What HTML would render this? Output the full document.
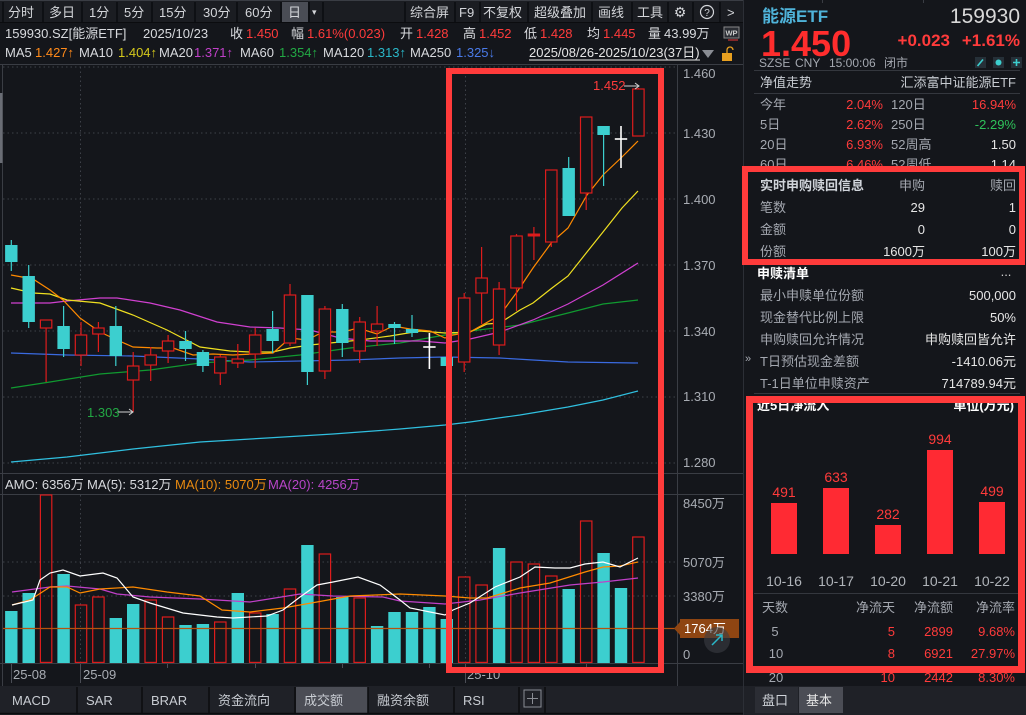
<!DOCTYPE html>
<html><head><meta charset="utf-8">
<style>
html,body{margin:0;padding:0;background:#14161b;overflow:hidden;}
svg{display:block;font-family:"Liberation Sans","Noto Sans CJK SC",sans-serif;font-size:13px;}
</style></head><body>
<svg width="1026" height="715" viewBox="0 0 1026 715" xmlns="http://www.w3.org/2000/svg" font-size="13">
<rect width="1026" height="715" fill="#14161b"/>

<!-- ===== TOOLBAR ===== -->
<rect x="0" y="0" width="743" height="23" fill="#1b1d22"/>
<line x1="0" y1="0.5" x2="743" y2="0.5" stroke="#3a3d44"/>
<line x1="0" y1="22.5" x2="743" y2="22.5" stroke="#0b0c0f"/>
<rect x="282" y="2" width="26" height="20" fill="#4a4d55"/>
<g stroke="#0b0c0f" stroke-width="1.5">
<line x1="3" y1="2" x2="3" y2="22"/><line x1="43" y1="2" x2="43" y2="22"/><line x1="82" y1="2" x2="82" y2="22"/>
<line x1="117" y1="2" x2="117" y2="22"/><line x1="152" y1="2" x2="152" y2="22"/><line x1="195" y1="2" x2="195" y2="22"/>
<line x1="237" y1="2" x2="237" y2="22"/><line x1="281" y1="2" x2="281" y2="22"/><line x1="309" y1="2" x2="309" y2="22"/>
<line x1="323" y1="2" x2="323" y2="22"/><line x1="405" y1="2" x2="405" y2="22"/><line x1="455" y1="2" x2="455" y2="22"/>
<line x1="480" y1="2" x2="480" y2="22"/><line x1="528" y1="2" x2="528" y2="22"/><line x1="592" y1="2" x2="592" y2="22"/>
<line x1="632" y1="2" x2="632" y2="22"/><line x1="668" y1="2" x2="668" y2="22"/><line x1="693" y1="2" x2="693" y2="22"/>
<line x1="720" y1="2" x2="720" y2="22"/>
</g>
<g fill="#d4d6da">
<text x="8" y="17">分时</text><text x="49" y="17">多日</text><text x="89" y="17">1分</text>
<text x="124" y="17">5分</text><text x="159" y="17">15分</text><text x="203" y="17">30分</text>
<text x="245" y="17">60分</text><text x="288" y="17">日</text>
<text x="312" y="15" font-size="9">▾</text>
<text x="410" y="17">综合屏</text><text x="459" y="17">F9</text><text x="483" y="17">不复权</text>
<text x="534" y="17">超级叠加</text><text x="598" y="17">画线</text><text x="637" y="17">工具</text>
<text x="680" y="17" font-size="14" text-anchor="middle" font-family="DejaVu Sans">⚙</text>
<circle cx="707" cy="12" r="6.5" fill="none" stroke="#d4d6da" stroke-width="1.2"/>
<text x="707" y="16" font-size="10" text-anchor="middle">?</text>
<text x="727" y="17">&gt;</text>
</g>

<!-- ===== INFO LINE 2 ===== -->
<g fill="#d8dade">
<text x="5" y="38">159930.SZ[能源ETF]</text>
<text x="143" y="38">2025/10/23</text>
<text x="230" y="38">收</text>
<text x="291" y="38">幅</text>
<text x="400" y="38">开</text>
<text x="463" y="38">高</text>
<text x="524" y="38">低</text>
<text x="587" y="38">均</text>
<text x="648" y="38">量</text>
<text x="664" y="38">43.99万</text>
</g>
<g fill="#ff3b3b">
<text x="246" y="38">1.450</text>
<text x="307" y="38">1.61%(0.023)</text>
<text x="416" y="38">1.428</text>
<text x="479" y="38">1.452</text>
<text x="540" y="38">1.428</text>
<text x="603" y="38">1.445</text>
</g>
<rect x="724" y="27" width="15" height="11" fill="#2a2d33" stroke="#888" stroke-width="1"/>
<text x="731.5" y="35.5" font-size="7.5" fill="#ccc" text-anchor="middle" font-weight="bold">WP</text>
<line x1="728" y1="40" x2="738" y2="40" stroke="#c33" stroke-width="1.2"/>

<!-- ===== MA LINE ===== -->
<g fill="#d8dade">
<text x="5" y="57">MA5</text><text x="79" y="57">MA10</text><text x="159" y="57">MA20</text>
<text x="240" y="57">MA60</text><text x="323" y="57">MA120</text><text x="410" y="57">MA250</text>
</g>
<text x="35" y="57" fill="#ff8a1a">1.427↑</text>
<text x="118" y="57" fill="#d4c81c">1.404↑</text>
<text x="194" y="57" fill="#c040c8">1.371↑</text>
<text x="279" y="57" fill="#22a844">1.354↑</text>
<text x="367" y="57" fill="#2ab7c8">1.313↑</text>
<text x="456" y="57" fill="#4a7ae8">1.325↓</text>
<text x="529" y="57" fill="#e6e6e6">2025/08/26-2025/10/23(37日)</text>
<line x1="529" y1="60" x2="700" y2="60" stroke="#e6e6e6" stroke-width="1"/>
<polygon points="702,50 714,50 708,58" fill="#8a8d94"/>
<rect x="722" y="53" width="10" height="8" fill="#e8a020"/>
<path d="M727,53 v-3 a3,3 0 0 1 6,0" fill="none" stroke="#e8a020" stroke-width="1.3"/>

<!-- ===== CHART FRAME LINES ===== -->
<line x1="0" y1="64.5" x2="743" y2="64.5" stroke="#3a3d44"/>
<line x1="2.5" y1="64" x2="2.5" y2="686" stroke="#3a3d44"/>
<line x1="677.5" y1="64" x2="677.5" y2="686" stroke="#3a3d44"/>
<line x1="0" y1="473.5" x2="743" y2="473.5" stroke="#3a3d44"/>
<line x1="0" y1="494.5" x2="743" y2="494.5" stroke="#3a3d44"/>
<line x1="0" y1="663.5" x2="743" y2="663.5" stroke="#3a3d44"/>
<rect x="0" y="93" width="2.5" height="70" fill="#6a6d75"/>

<!-- grid -->
<g stroke="#3e4149" stroke-width="1" stroke-dasharray="1.5,3">
<line x1="3" y1="67" x2="677" y2="67"/><line x1="3" y1="133" x2="677" y2="133"/>
<line x1="3" y1="199" x2="677" y2="199"/><line x1="3" y1="265" x2="677" y2="265"/>
<line x1="3" y1="331" x2="677" y2="331"/><line x1="3" y1="397" x2="677" y2="397"/>
<line x1="3" y1="463" x2="677" y2="463"/>
<line x1="3" y1="562" x2="677" y2="562"/><line x1="3" y1="596" x2="677" y2="596"/>
<line x1="80.5" y1="67" x2="80.5" y2="472"/><line x1="465.5" y1="67" x2="465.5" y2="472"/>
<line x1="80.5" y1="495" x2="80.5" y2="663"/><line x1="465.5" y1="495" x2="465.5" y2="663"/>
</g>

<!-- price axis labels -->
<g fill="#a8acb3">
<text x="683" y="78">1.460</text><text x="683" y="138">1.430</text><text x="683" y="204">1.400</text>
<text x="683" y="270">1.370</text><text x="683" y="336">1.340</text><text x="683" y="401">1.310</text>
<text x="683" y="467">1.280</text>
<text x="683" y="508">8450万</text><text x="683" y="567">5070万</text><text x="683" y="601">3380万</text>
<text x="683" y="659">0</text>
</g>

<!-- ===== MA LINES (price) ===== -->
<g fill="none" stroke-width="1.2">
<polyline stroke="#30c0e0" points="11,462 67,457 133,449 200,442 267,438 333,434 400,429 445,425 470,422 520,415 568,407 603,400 638,391"/>
<polyline stroke="#3a6ae0" points="11,353 67,355 133,356 200,359 250,362 350,360 400,358 445,357 500,358 533,360 568,362 638,363"/>
<polyline stroke="#109a30" points="11,388 50,382 100,374 150,370 200,363 250,360 300,355 350,348 400,343 445,335 470,331 520,325 568,313 603,304 638,300"/>
<polyline stroke="#d040d0" points="11,303 50,303 67,301 100,298 117,298 150,303 180,310 217,322 250,327 280,328 310,330 340,338 370,341 420,341 445,343 470,339 500,332 533,320 568,304 603,285 638,263"/>
<polyline stroke="#f0e020" points="11,288 33,293 50,294 67,300 100,303 133,315 167,330 200,347 230,351 250,352 273,352 290,348 310,345 330,343 360,340 390,336 420,331 445,333 470,332 487,324 500,323 520,310 533,303 552,288 568,276 587,252 603,232 622,208 638,191"/>
<polyline stroke="#ff8a00" points="11,275 33,279 50,290 63,300 80,318 100,332 117,340 133,347 157,348 173,348 193,355 213,354 233,355 253,354 273,353 290,338 307,340 323,332 343,332 358,328 377,334 393,326 410,329 430,331 445,338 453,335 470,332 500,315 517,292 533,268 552,242 568,228 587,195 603,175 622,157 638,141"/>
</g>

<!-- ===== CANDLES ===== -->
<g stroke-width="1.2">
<g stroke="#3ccfcf">
<line x1="11.3" y1="240" x2="11.3" y2="271"/><line x1="28.7" y1="265" x2="28.7" y2="328"/>
<line x1="63.6" y1="306" x2="63.6" y2="357"/><line x1="115.8" y1="306" x2="115.8" y2="366"/>
<line x1="185.5" y1="331" x2="185.5" y2="361"/><line x1="202.9" y1="350" x2="202.9" y2="372"/>
<line x1="272.6" y1="311" x2="272.6" y2="353"/><line x1="307.4" y1="295" x2="307.4" y2="385"/>
<line x1="342.3" y1="304" x2="342.3" y2="357"/><line x1="394.5" y1="322" x2="394.5" y2="344"/>
<line x1="412" y1="315" x2="412" y2="337"/><line x1="568.7" y1="157" x2="568.7" y2="216"/>
<line x1="603.6" y1="126" x2="603.6" y2="186"/>
</g>
<g fill="#3ccfcf">
<rect x="5.1" y="245" width="12.4" height="17"/><rect x="22.5" y="276" width="12.4" height="46"/>
<rect x="57.4" y="326" width="12.4" height="23"/><rect x="109.6" y="326" width="12.4" height="30"/>
<rect x="179.3" y="341" width="12.4" height="8"/><rect x="196.7" y="352" width="12.4" height="14"/>
<rect x="266.4" y="329" width="12.4" height="12"/><rect x="301.2" y="295" width="12.4" height="77"/>
<rect x="336.1" y="309" width="12.4" height="34"/><rect x="388.3" y="324" width="12.4" height="4"/>
<rect x="405.8" y="329" width="12.4" height="4"/><rect x="440.6" y="357" width="12.4" height="9"/>
<rect x="562.5" y="168" width="12.4" height="48"/><rect x="597.4" y="126" width="12.4" height="9"/>
</g>
<g stroke="#dd1c1c">
<line x1="46.1" y1="320" x2="46.1" y2="382"/><line x1="81" y1="322" x2="81" y2="366"/>
<line x1="98.4" y1="322" x2="98.4" y2="352"/><line x1="133.2" y1="352" x2="133.2" y2="412"/>
<line x1="150.7" y1="347" x2="150.7" y2="381"/><line x1="168.1" y1="335" x2="168.1" y2="363"/>
<line x1="220.3" y1="355" x2="220.3" y2="385"/><line x1="237.8" y1="344" x2="237.8" y2="368"/>
<line x1="255.2" y1="328" x2="255.2" y2="368"/><line x1="290" y1="284" x2="290" y2="346"/>
<line x1="324.9" y1="306" x2="324.9" y2="379"/><line x1="359.7" y1="317" x2="359.7" y2="363"/>
<line x1="377.1" y1="306" x2="377.1" y2="346"/><line x1="464.2" y1="293" x2="464.2" y2="372"/>
<line x1="481.6" y1="247" x2="481.6" y2="324"/><line x1="499.1" y1="282" x2="499.1" y2="355"/>
<line x1="516.5" y1="234" x2="516.5" y2="311"/><line x1="533.9" y1="227" x2="533.9" y2="260"/>
<line x1="551.3" y1="170" x2="551.3" y2="247"/><line x1="586.2" y1="117" x2="586.2" y2="210"/>
<line x1="638.4" y1="88" x2="638.4" y2="136"/>
</g>
<g fill="#14161b" stroke="#dd1c1c">
<rect x="40.4" y="320" width="11.4" height="8"/><rect x="75.3" y="335" width="11.4" height="20"/>
<rect x="92.7" y="328" width="11.4" height="6"/><rect x="127.5" y="366" width="11.4" height="14"/>
<rect x="145" y="355" width="11.4" height="10"/><rect x="162.4" y="341" width="11.4" height="10"/>
<rect x="214.6" y="357" width="11.4" height="16"/><rect x="232.1" y="359" width="11.4" height="4"/>
<rect x="249.5" y="335" width="11.4" height="19"/><rect x="284.3" y="295" width="11.4" height="48"/>
<rect x="319.2" y="309" width="11.4" height="62"/><rect x="354" y="322" width="11.4" height="29"/>
<rect x="371.4" y="324" width="11.4" height="7"/><rect x="458.5" y="298" width="11.4" height="64"/>
<rect x="475.9" y="278" width="11.4" height="15"/><rect x="493.4" y="289" width="11.4" height="56"/>
<rect x="510.8" y="236" width="11.4" height="52"/><rect x="545.6" y="170" width="11.4" height="72"/>
<rect x="580.5" y="117" width="11.4" height="76"/><rect x="632.7" y="89" width="11.4" height="47"/>
</g>
<rect x="527.7" y="233.5" width="12.4" height="3" fill="#dd1c1c"/>
<g stroke="#ffffff" stroke-width="1.6">
<line x1="429.4" y1="333" x2="429.4" y2="369"/><line x1="423.2" y1="347" x2="435.6" y2="347"/>
<line x1="621" y1="126" x2="621" y2="168"/><line x1="614.8" y1="139" x2="627.2" y2="139"/>
</g>
</g>

<!-- high/low markers -->
<text x="593" y="90" fill="#ff3b3b">1.452</text>
<path d="M624,86 H639 M635,83 L639,86 L635,89" stroke="#d0d0d0" fill="none" stroke-width="1"/>
<text x="87" y="417" fill="#22a844">1.303</text>
<path d="M118,412 H133 M129,409 L133,412 L129,415" stroke="#d0d0d0" fill="none" stroke-width="1"/>

<!-- ===== VOLUME ===== -->
<g fill="#d8dade">
<text x="5" y="489">AMO: 6356万</text>
<text x="87" y="489">MA(5): 5312万</text>
</g>
<text x="175" y="489" fill="#e88a10">MA(10): 5070万</text>
<text x="268" y="489" fill="#b845c8">MA(20): 4256万</text>

<g fill="#3ccfcf">
<rect x="5.1" y="611" width="12.4" height="52"/><rect x="22.5" y="593" width="12.4" height="70"/>
<rect x="57.4" y="574" width="12.4" height="89"/><rect x="109.6" y="618" width="12.4" height="45"/>
<rect x="127" y="604" width="12.4" height="59"/><rect x="179.3" y="625" width="12.4" height="38"/>
<rect x="196.7" y="624" width="12.4" height="39"/><rect x="231.6" y="593" width="12.4" height="70"/>
<rect x="266.4" y="614" width="12.4" height="49"/><rect x="301.2" y="545" width="12.4" height="118"/>
<rect x="336.1" y="597" width="12.4" height="66"/><rect x="370.9" y="626" width="12.4" height="37"/>
<rect x="388.3" y="612" width="12.4" height="51"/><rect x="405.8" y="612" width="12.4" height="51"/>
<rect x="423.2" y="607" width="12.4" height="56"/><rect x="440.6" y="619" width="12.4" height="44"/>
<rect x="492.9" y="548" width="12.4" height="115"/><rect x="562.5" y="589" width="12.4" height="74"/>
<rect x="597.4" y="553" width="12.4" height="110"/><rect x="614.8" y="588" width="12.4" height="75"/>
</g>
<g fill="none" stroke="#dd1c1c" stroke-width="1.2">
<rect x="40.4" y="495" width="11.4" height="167.4"/><rect x="75.3" y="605" width="11.4" height="57.4"/>
<rect x="92.7" y="597" width="11.4" height="65.4"/><rect x="145" y="600" width="11.4" height="62.4"/>
<rect x="162.4" y="617" width="11.4" height="45.4"/><rect x="214.6" y="622" width="11.4" height="40.4"/>
<rect x="249.5" y="613" width="11.4" height="49.4"/><rect x="284.3" y="589" width="11.4" height="73.4"/>
<rect x="319.2" y="554" width="11.4" height="108.4"/><rect x="354" y="598" width="11.4" height="64.4"/>
<rect x="458.5" y="577" width="11.4" height="85.4"/><rect x="475.9" y="585" width="11.4" height="77.4"/>
<rect x="510.8" y="562" width="11.4" height="100.4"/><rect x="528.2" y="564" width="11.4" height="98.4"/>
<rect x="545.6" y="576" width="11.4" height="86.4"/><rect x="580.5" y="521" width="11.4" height="141.4"/>
<rect x="632.7" y="537" width="11.4" height="125.4"/>
</g>
<line x1="3" y1="628.5" x2="677" y2="628.5" stroke="#b5520f" stroke-width="1.2"/>
<g fill="none" stroke-width="1.2">
<polyline stroke="#c040c8" points="12,592 50,587 67,586 100,589 117,594 150,597 200,599 250,602 300,594 333,596 383,597 400,601 445,604 480,600 520,593 570,585 603,582 638,578"/>
<polyline stroke="#ff8a00" points="12,605 30,600 50,587 67,587 80,593 100,589 133,587 167,592 200,596 222,610 250,612 283,608 317,602 350,596 400,594 445,596 470,598 487,598 520,588 550,583 585,572 603,567 620,566 638,562"/>
<polyline stroke="#ffffff" points="12,605 33,600 40,580 50,573 63,570 80,576 103,573 117,578 133,597 150,603 183,613 217,617 233,618 267,616 283,610 300,597 317,585 333,582 358,577 380,585 400,600 410,608 430,612 445,615 453,610 470,603 495,587 520,577 535,567 555,568 570,568 585,564 603,562 620,567 638,558"/>
</g>
<polygon points="674,628.5 680,622 680,619 739,619 739,638 680,638 680,635" fill="#8e4512"/>
<text x="684" y="633" fill="#ffffff">1764万</text>
<circle cx="717" cy="640" r="13" fill="#3a3d44" fill-opacity="0.6"/>
<path d="M712,645 L722,635 M716,635 H722 V641" stroke="#2ab7c8" stroke-width="1.5" fill="none"/>

<!-- date axis -->
<g stroke="#4a4d55">
<line x1="11.5" y1="664" x2="11.5" y2="683"/><line x1="80.5" y1="664" x2="80.5" y2="683"/>
<line x1="167.5" y1="664" x2="167.5" y2="668"/><line x1="255.5" y1="664" x2="255.5" y2="668"/>
<line x1="342.5" y1="664" x2="342.5" y2="668"/><line x1="429.5" y1="664" x2="429.5" y2="668"/>
<line x1="465.5" y1="664" x2="465.5" y2="683"/><line x1="586.5" y1="664" x2="586.5" y2="668"/>
</g>
<g fill="#a8acb3">
<text x="13" y="679">25-08</text><text x="83" y="679">25-09</text><text x="467" y="679">25-10</text>
</g>

<!-- bottom tabs -->
<rect x="0" y="686" width="743" height="29" fill="#1f2127"/>
<rect x="296" y="687" width="72" height="26" fill="#4b4d55"/>
<rect x="524" y="690" width="17" height="17" fill="none" stroke="#8a8d94"/>
<path d="M532.5,693 V704 M527,698.5 H538" stroke="#8a8d94"/>
<g stroke="#0b0c0f" stroke-width="1.5">
<line x1="77" y1="687" x2="77" y2="713"/><line x1="142" y1="687" x2="142" y2="713"/>
<line x1="209" y1="687" x2="209" y2="713"/><line x1="295" y1="687" x2="295" y2="713"/>
<line x1="368" y1="687" x2="368" y2="713"/><line x1="454" y1="687" x2="454" y2="713"/>
<line x1="519" y1="687" x2="519" y2="713"/><line x1="545" y1="687" x2="545" y2="713"/>
<line x1="0" y1="713.5" x2="743" y2="713.5"/>
</g>
<g fill="#c8ccd2">
<text x="12" y="705">MACD</text><text x="86" y="705">SAR</text><text x="151" y="705">BRAR</text>
<text x="218" y="705">资金流向</text><text x="304" y="705">成交额</text><text x="377" y="705">融资余额</text>
<text x="463" y="705">RSI</text>
</g>

<rect x="449" y="71" width="212" height="599" fill="none" stroke="#ff3b3b" stroke-width="6"/>

<!-- ===== RIGHT PANEL ===== -->
<rect x="743" y="0" width="283" height="715" fill="#14161b"/>
<line x1="743.5" y1="0" x2="743.5" y2="715" stroke="#2c2f36"/>
<line x1="822.5" y1="0" x2="822.5" y2="3" stroke="#3a3d44"/>
<line x1="923.5" y1="0" x2="923.5" y2="3" stroke="#3a3d44"/>
<text x="762" y="22" font-size="17" font-weight="bold" fill="#4fb3d9">能源ETF</text>
<text x="1020" y="23" font-size="21" fill="#d8d8d8" text-anchor="end">159930</text>
<text x="761" y="56" font-size="36" font-weight="bold" fill="#ff2d2d">1.450</text>
<text x="950" y="46" font-size="17" font-weight="bold" fill="#ff3b3b" text-anchor="end">+0.023</text>
<text x="1020" y="46" font-size="17" font-weight="bold" fill="#ff3b3b" text-anchor="end">+1.61%</text>
<g fill="#a4a8b0" font-size="12">
<text x="759" y="67">SZSE</text><text x="795" y="67">CNY</text>
<text x="829" y="67">15:00:06</text><text x="884" y="67">闭市</text>
</g>
<rect x="975" y="57" width="11" height="11" fill="#263038"/>
<rect x="993" y="57" width="11" height="11" fill="#263038"/>
<rect x="1011" y="57" width="11" height="11" fill="#263038"/>
<path d="M977.5,66 L983,59.5" stroke="#3ccfcf" stroke-width="1.6"/>
<circle cx="998.5" cy="62.5" r="3" fill="#3ccfcf"/>
<path d="M1016.5,59 V66 M1013,62.5 H1020" stroke="#3ccfcf" stroke-width="1.6"/>
<line x1="754" y1="70.5" x2="1020" y2="70.5" stroke="#34373e"/>
<text x="760" y="87" fill="#c8ccd2">净值走势</text>
<text x="1016" y="87" fill="#c8ccd2" text-anchor="end">汇添富中证能源ETF</text>
<line x1="754" y1="93.5" x2="1020" y2="93.5" stroke="#34373e"/>
<g fill="#a4a8b0">
<text x="760" y="109">今年</text><text x="760" y="129">5日</text><text x="760" y="149">20日</text><text x="760" y="169">60日</text>
<text x="891" y="109">120日</text><text x="891" y="129">250日</text><text x="891" y="149">52周高</text><text x="891" y="169">52周低</text>
</g>
<g fill="#ff3b3b" text-anchor="end">
<text x="883" y="109">2.04%</text><text x="883" y="129">2.62%</text><text x="883" y="149">6.93%</text><text x="883" y="169">6.46%</text>
<text x="1016" y="109">16.94%</text>
</g>
<text x="1016" y="129" fill="#2ec25a" text-anchor="end">-2.29%</text>
<text x="1016" y="149" fill="#e6e6e6" text-anchor="end">1.50</text>
<text x="1016" y="169" fill="#e6e6e6" text-anchor="end">1.14</text>

<rect x="748" y="172" width="271" height="87" fill="#14161b"/>
<text x="760" y="190" fill="#d0d4da" font-weight="bold">实时申购赎回信息</text>
<text x="925" y="190" fill="#a4a8b0" text-anchor="end">申购</text>
<text x="1016" y="190" fill="#a4a8b0" text-anchor="end">赎回</text>
<g fill="#a4a8b0"><text x="760" y="212">笔数</text><text x="760" y="234">金额</text><text x="760" y="256">份额</text></g>
<g fill="#e6e6e6" text-anchor="end">
<text x="925" y="212">29</text><text x="1016" y="212">1</text>
<text x="925" y="234">0</text><text x="1016" y="234">0</text>
<text x="925" y="256">1600万</text><text x="1016" y="256">100万</text>
</g>
<rect x="745" y="169" width="277" height="93" fill="none" stroke="#ff3b3b" stroke-width="6"/>

<text x="757" y="278" fill="#ffffff" font-weight="bold">申赎清单</text>
<text x="1006" y="276" fill="#d0d0d0" text-anchor="middle">...</text>
<g fill="#a4a8b0">
<text x="760" y="300">最小申赎单位份额</text><text x="760" y="322">现金替代比例上限</text>
<text x="760" y="344">申购赎回允许情况</text><text x="760" y="366">T日预估现金差额</text>
<text x="760" y="388">T-1日单位申赎资产</text>
</g>
<g fill="#e6e6e6" text-anchor="end">
<text x="1016" y="300">500,000</text><text x="1016" y="322">50%</text>
<text x="1016" y="344">申购赎回皆允许</text><text x="1016" y="366">-1410.06元</text>
<text x="1016" y="388">714789.94元</text>
</g>
<text x="745" y="362" fill="#a4a8b0" font-size="11">»</text>
<line x1="754" y1="393.5" x2="1020" y2="393.5" stroke="#34373e"/>

<text x="757" y="410" fill="#ffffff" font-weight="bold">近5日净流入</text>
<text x="1014" y="410" fill="#ffffff" font-weight="bold" text-anchor="end">单位(万元)</text>
<g fill="#ff2a33">
<rect x="771" y="503" width="26" height="51"/><rect x="823" y="488" width="26" height="66"/>
<rect x="875" y="525" width="26" height="29"/><rect x="927" y="450" width="26" height="104"/>
<rect x="979" y="502" width="26" height="52"/>
</g>
<g fill="#ff3b3b" font-size="14" text-anchor="middle">
<text x="784" y="497">491</text><text x="836" y="482">633</text>
<text x="888" y="519">282</text><text x="940" y="444">994</text>
<text x="992" y="496">499</text>
</g>
<g fill="#b0b4ba" font-size="14" text-anchor="middle">
<text x="784" y="586">10-16</text><text x="836" y="586">10-17</text>
<text x="888" y="586">10-20</text><text x="940" y="586">10-21</text>
<text x="992" y="586">10-22</text>
</g>
<line x1="754" y1="593.5" x2="1018" y2="593.5" stroke="#34373e"/>
<g fill="#a4a8b0">
<text x="762" y="612">天数</text>
<text x="895" y="612" text-anchor="end">净流天</text>
<text x="953" y="612" text-anchor="end">净流额</text>
<text x="1015" y="612" text-anchor="end">净流率</text>
<text x="775" y="636" text-anchor="middle">5</text>
<text x="776" y="658" text-anchor="middle">10</text>
<text x="776" y="682" text-anchor="middle">20</text>
</g>
<g fill="#ff3b3b" text-anchor="end">
<text x="895" y="636">5</text><text x="953" y="636">2899</text><text x="1015" y="636">9.68%</text>
<text x="895" y="658">8</text><text x="953" y="658">6921</text><text x="1015" y="658">27.97%</text>
<text x="895" y="682">10</text><text x="953" y="682">2442</text><text x="1015" y="682">8.30%</text>
</g>
<rect x="749.5" y="399.5" width="272" height="270" fill="none" stroke="#ff3b3b" stroke-width="7"/>

<rect x="744" y="686" width="282" height="29" fill="#1f2127"/>
<rect x="755" y="687" width="43" height="26" fill="#2b2d34"/>
<rect x="799" y="687" width="44" height="26" fill="#4b4d55"/>
<text x="762" y="705" fill="#d0d4da">盘口</text>
<text x="806" y="705" fill="#e6e6e6">基本</text>
</svg>
</body></html>
